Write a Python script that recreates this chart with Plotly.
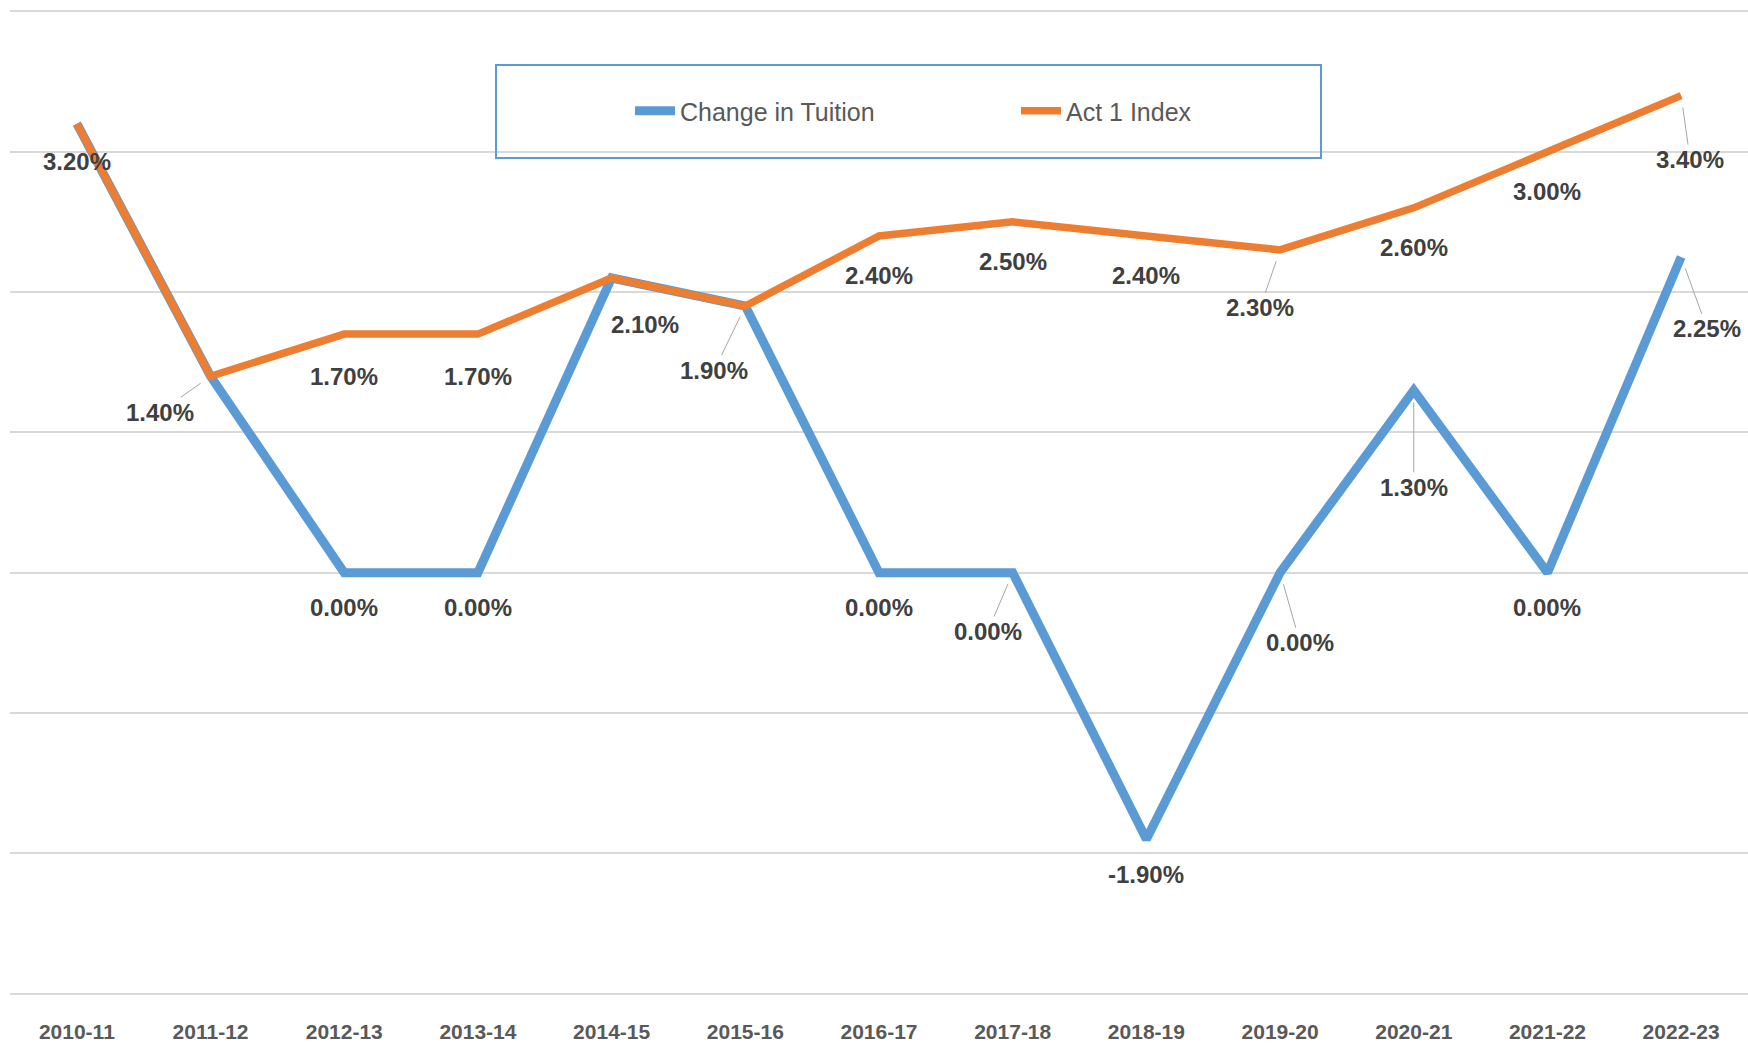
import plotly.graph_objects as go

# School years on the category axis
years = ["2010-11", "2011-12", "2012-13", "2013-14", "2014-15", "2015-16", "2016-17",
         "2017-18", "2018-19", "2019-20", "2020-21", "2021-22", "2022-23"]

# Annual percentage changes
tuition_change = [3.20, 1.40, 0.00, 0.00, 2.10, 1.90, 0.00, 0.00, -1.90, 0.00, 1.30, 0.00, 2.25]
act1_index = [3.20, 1.40, 1.70, 1.70, 2.10, 1.90, 2.40, 2.50, 2.40, 2.30, 2.60, 3.00, 3.40]

# Data-label placement: (dx, dy, leader line) in pixels from the point; None = no label
act1_label_pos = [(0, 38, False), (-51, 36, True), (0, 42, False), (0, 42, False),
                  (33, 46, False), (-31, 64, True), (0, 40, False), (0, 40, False),
                  (0, 40, False), (-20, 58, True), (0, 40, False), (0, 40, False),
                  (9, 64, True)]
tuition_label_pos = [None, None, (0, 35, False), (0, 35, False), None, None,
                     (0, 35, False), (-25, 59, True), (0, 35, False), (20, 70, True),
                     (0, 97, True), (0, 35, False), (26, 72, True)]

BLUE = "#5B9BD5"
ORANGE = "#ED7D31"
FONT = "Liberation Sans, Arial, sans-serif"

fig = go.Figure()
fig.add_trace(go.Scatter(x=years, y=tuition_change, mode="lines", name="Change in Tuition",
                         line=dict(color=BLUE, width=9)))
fig.add_trace(go.Scatter(x=years, y=act1_index, mode="lines", name="Act 1 Index",
                         line=dict(color=ORANGE, width=7.5)))

annotations = []
for values, positions in ((act1_index, act1_label_pos), (tuition_change, tuition_label_pos)):
    for yr, v, pos in zip(years, values, positions):
        if pos is None:
            continue
        dx, dy, leader = pos
        common = dict(x=yr, y=v, xref="x", yref="y", text=f"<b>{v:.2f}%</b>",
                      font=dict(family=FONT, size=24, color="#404040"))
        if leader:
            annotations.append(dict(**common, showarrow=True, ax=dx, ay=dy,
                                    arrowhead=0, arrowwidth=1, arrowcolor="#a6a6a6",
                                    standoff=12))
        else:
            annotations.append(dict(**common, showarrow=False, xshift=dx, yshift=-dy))

fig.update_layout(
    width=1748, height=1052,
    margin=dict(l=10, r=0, t=10, b=57),
    paper_bgcolor="white", plot_bgcolor="white",
    showlegend=True,
    legend=dict(orientation="h", x=(630 - 10) / 1738, xanchor="left",
                y=1 - (111 - 10) / 985, yanchor="middle",
                font=dict(family=FONT, size=25, color="#595959"),
                bgcolor="rgba(0,0,0,0)", entrywidth=331, entrywidthmode="pixels",
                itemwidth=40),
    annotations=annotations,
    shapes=[dict(type="rect", xref="paper", yref="paper",
                 x0=(496 - 10) / 1738, x1=(1321 - 10) / 1738,
                 y0=1 - (158 - 10) / 985, y1=1 - (65 - 10) / 985,
                 line=dict(color="#5B9BD5", width=2), fillcolor="rgba(0,0,0,0)")],
    xaxis=dict(type="category", range=[-0.5, 12.5], showgrid=False, zeroline=False,
               showline=False, ticks="outside", ticklen=18, tickcolor="rgba(0,0,0,0)",
               tickfont=dict(family=FONT, size=21, color="#595959"),
               tickprefix="<b>", ticksuffix="</b>", automargin=False),
    yaxis=dict(range=[-3.01, 4.01], dtick=1, tick0=0, showgrid=True, gridcolor="#d9d9d9",
               gridwidth=2, zeroline=False, showticklabels=False, showline=False,
               automargin=False),
)

fig.write_html("out.html")
